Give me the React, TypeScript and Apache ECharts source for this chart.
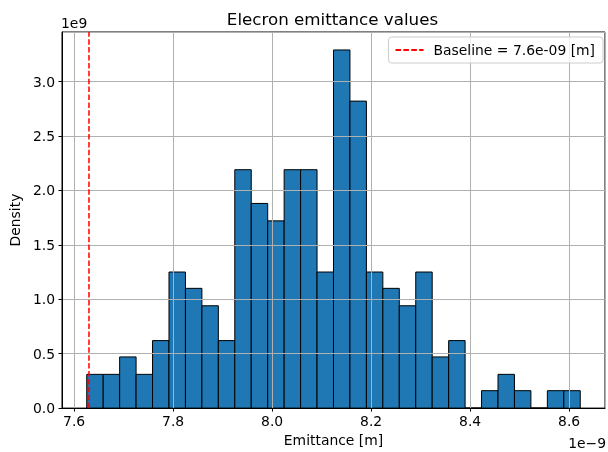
import React, { useEffect, useRef } from "react";
import * as echarts from "echarts";

// Histogram bin range (×1e-9 m) and densities (×1e9)
const binStart = 7.6255;
const binEnd = 8.6225;
const densityValues = [
  0.31, 0.31, 0.47, 0.31, 0.62, 1.25, 1.1, 0.94, 0.62, 2.19,
  1.88, 1.72, 2.19, 2.19, 1.25, 3.29, 2.82, 1.25, 1.1, 0.94,
  1.25, 0.47, 0.62, 0, 0.16, 0.31, 0.16, 0, 0.16, 0.16,
];
const baselineValue = 7.63;
const baselineLabel = "Baseline = 7.6e-09 [m]";
const titleText = "Elecron emittance values";
const xAxisTitle = "Emittance [m]";
const yAxisTitle = "Density";
const xMin = 7.5755;
const xMax = 8.6725;
const yMax = 3.455;

const FONT = "DejaVu Sans";

export default function App() {
  const ref = useRef<HTMLDivElement>(null);

  useEffect(() => {
    if (!ref.current) return;
    const chart = echarts.init(ref.current, null, { renderer: "svg" });
    const n = densityValues.length;
    const w = (binEnd - binStart) / n;
    const bins = densityValues.map((v, i) => [binStart + i * w, binStart + (i + 1) * w, v]);

    const isMultiple = (v: number, step: number) =>
      Math.abs(v / step - Math.round(v / step)) < 1e-6;

    chart.setOption({
      animation: false,
      textStyle: { fontFamily: FONT },
      grid: {
        left: 60,
        right: 3,
        top: 32,
        bottom: 42,
        show: true,
        borderColor: "#000",
        borderWidth: 1,
        backgroundColor: "transparent",
      },
      legend: {
        right: 5,
        top: 37,
        orient: "horizontal",
        data: [baselineLabel],
        itemWidth: 28,
        itemHeight: 10,
        padding: [6, 8, 6, 6],
        borderColor: "#cccccc",
        borderWidth: 1,
        borderRadius: 3,
        backgroundColor: "rgba(255,255,255,0.8)",
        itemStyle: { color: "transparent", borderWidth: 0, opacity: 0 },
        textStyle: { fontSize: 13.9, color: "#000", fontFamily: FONT, padding: [0, 0, 0, 5] },
      },
      xAxis: {
        type: "value",
        min: xMin,
        max: xMax,
        splitNumber: 5,
        z: 3,
        name: xAxisTitle,
        nameLocation: "middle",
        nameGap: 24,
        nameTextStyle: { fontSize: 13.9, color: "#000", fontFamily: FONT },
        axisLine: { show: true, onZero: false, lineStyle: { color: "#000", width: 1 } },
        axisTick: { show: true, length: 3.5, lineStyle: { color: "#000", width: 1 } },
        axisLabel: {
          fontSize: 13.9,
          color: "#000",
          fontFamily: FONT,
          margin: 6,
          showMinLabel: false,
          showMaxLabel: false,
          formatter: (v: number) => (isMultiple(v, 0.2) ? v.toFixed(1) : ""),
        },
        splitLine: { show: true, lineStyle: { color: "#b0b0b0", width: 1 } },
      },
      yAxis: {
        type: "value",
        min: 0,
        max: yMax,
        interval: 0.5,
        z: 3,
        name: yAxisTitle,
        nameLocation: "middle",
        nameGap: 37,
        nameRotate: 90,
        nameTextStyle: { fontSize: 13.9, color: "#000", fontFamily: FONT },
        axisLine: { show: true, lineStyle: { color: "#000", width: 1 } },
        axisTick: { show: true, length: 3.5, lineStyle: { color: "#000", width: 1 } },
        axisLabel: {
          fontSize: 13.9,
          color: "#000",
          fontFamily: FONT,
          margin: 7,
          showMaxLabel: false,
          formatter: (v: number) => (isMultiple(v, 0.5) ? v.toFixed(1) : ""),
        },
        splitLine: { show: true, lineStyle: { color: "#b0b0b0", width: 1 } },
      },
      graphic: [
        {
          type: "text",
          x: 332.5,
          y: 19,
          style: {
            text: titleText,
            fontSize: 16.7,
            fontFamily: FONT,
            fill: "#000",
            textAlign: "center",
            textVerticalAlign: "middle",
          },
        },
        {
          type: "text",
          x: 61,
          y: 23,
          style: {
            text: "1e9",
            fontSize: 13.9,
            fontFamily: FONT,
            fill: "#000",
            textAlign: "left",
            textVerticalAlign: "middle",
          },
        },
        {
          type: "text",
          x: 606,
          y: 443,
          style: {
            text: "1e\u22129",
            fontSize: 13.9,
            fontFamily: FONT,
            fill: "#000",
            textAlign: "right",
            textVerticalAlign: "middle",
          },
        },
      ],
      series: [
        {
          type: "custom",
          name: "hist",
          z: 2,
          data: bins,
          encode: { x: [0, 1], y: 2 },
          renderItem: (params: any, api: any) => {
            const p0 = api.coord([api.value(0), 0]);
            const p1 = api.coord([api.value(1), api.value(2)]);
            return {
              type: "rect",
              shape: {
                x: p0[0],
                y: p1[1],
                width: p1[0] - p0[0],
                height: p0[1] - p1[1],
              },
              style: { fill: "#1f77b4", stroke: "#000", lineWidth: 1 },
            };
          },
        },
        {
          type: "line",
          name: baselineLabel,
          z: 5,
          symbol: "none",
          showSymbol: false,
          data: [
            [baselineValue, 0],
            [baselineValue, yMax],
          ],
          lineStyle: { color: "#ff0000", width: 1.5, type: [5.5, 2.4] },
          itemStyle: { color: "#ff0000" },
        },
      ],
    });

    return () => chart.dispose();
  }, []);

  return (
    <div
      ref={ref}
      style={{ position: "fixed", left: 0, top: 0, width: 608, height: 452 }}
    />
  );
}
